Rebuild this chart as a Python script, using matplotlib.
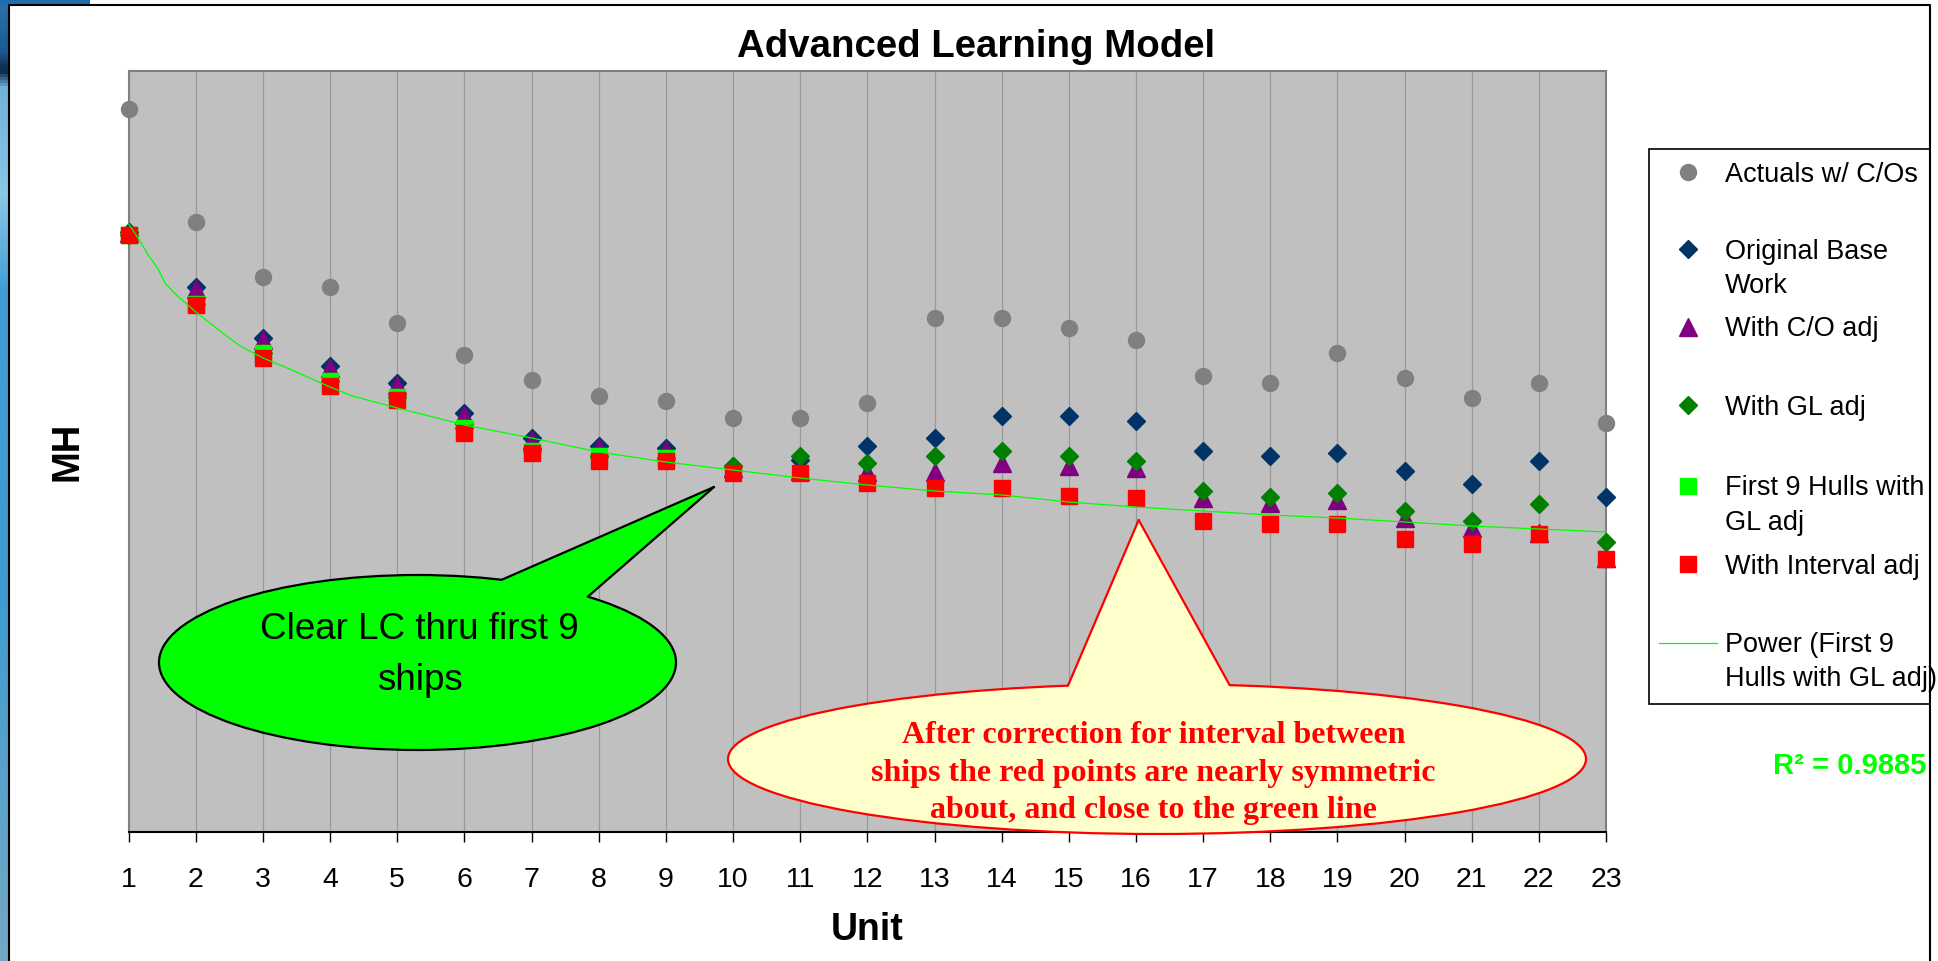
import numpy as np
import matplotlib.pyplot as plt
from matplotlib.lines import Line2D
from matplotlib.patches import Rectangle, Ellipse, Polygon
from matplotlib.colors import LinearSegmentedColormap

W, H = 1938, 961

# ---- data (MH, arbitrary units - axis has no scale) ----
units = list(range(1, 24))
actuals = [723, 610, 555, 545, 509, 477, 452, 436, 431, 414, 414, 429,
           514, 514, 504, 492, 456, 449, 479, 454, 434, 449, 409]
base_work = [600, 545, 494, 466, 449, 419, 394, 386, 384, 366, 372, 386,
             394, 416, 416, 411, 381, 376, 379, 361, 348, 371, 335]
co_adj = [599, 543, 492, 464, 447, 417, 392, 384, 382, 364, 361, 360,
          360, 369, 366, 364, 334, 329, 332, 314, 304, 299, 274]
gl_adj = [597, 528, 479, 451, 435, 404, 381, 376, 374, 366, 376, 369,
          376, 381, 376, 371, 341, 335, 339, 321, 311, 328, 290]
first9_units = list(range(1, 10))
first9_gl = [597, 528, 479, 451, 435, 404, 381, 376, 374]
interval_adj = [597, 527, 474, 446, 432, 399, 379, 371, 371, 359, 359, 349,
                344, 344, 336, 334, 311, 308, 308, 293, 288, 298, 273]
# power trendline as drawn by Excel
trend_x = [1, 1.14, 1.29, 1.43, 1.54, 1.71, 2, 2.4, 2.66, 3, 3.36, 4, 4.33,
           5, 6, 7, 8, 9, 10, 11, 12, 13, 14, 15, 16, 17, 18, 19, 20, 21, 22, 23]
trend_y = [608, 594, 577, 564, 549, 537, 520, 499, 486, 474, 464, 445, 436,
           424, 407, 394, 380, 370, 362, 354, 347, 341, 337, 330, 325, 321,
           317, 314, 310, 306, 303, 300]
r2_text = 'R² = 0.9885'

plt.rcParams['font.family'] = ['Liberation Sans', 'DejaVu Sans']

fig = plt.figure(figsize=(W / 100, H / 100), dpi=100)
fig.patch.set_facecolor('white')


def fx(px):
    return px / W


def fy(py):
    return 1 - py / H


# slide background peeking at the left/top edge
cmap = LinearSegmentedColormap.from_list('slide', [
    (0.0, '#2a72ad'), (0.05, '#1b5b8f'), (0.07, '#0c2c4a'), (0.09, '#6fb2dc'),
    (0.2, '#8cc6e6'), (0.3, '#3f9ed6'), (0.6, '#3b9bd2'), (1.0, '#74a7c3')])
strip = fig.add_axes([0, 0, fx(8), 1])
strip.imshow(np.linspace(0, 1, 300)[:, None], aspect='auto', cmap=cmap)
strip.axis('off')
topstrip = fig.add_axes([0, fy(5), fx(90), 5 / H])
topstrip.set_facecolor('#1f6eab')
topstrip.set_xticks([])
topstrip.set_yticks([])
for s in topstrip.spines.values():
    s.set_visible(False)

# chart area border
fig.add_artist(Line2D([fx(8.5), fx(8.5), fx(1929.5), fx(1929.5)],
                      [0, fy(5), fy(5), 0], color='black', lw=1.5))

# ---- plot area ----
x0, x1, ytop, ybot = 128.7, 1606, 71, 832
ax = fig.add_axes([fx(x0), fy(ybot), fx(x1) - fx(x0), (ybot - ytop) / H])
ax.set_facecolor('#C0C0C0')
ax.set_xlim(1, 23)
ax.set_ylim(0, ybot - ytop)
ax.set_xticks(units)
ax.set_xticklabels([str(u) for u in units])
ax.set_yticks([])
ax.tick_params(axis='x', direction='out', length=7.2, width=1, colors='black',
               labelsize=20.5, pad=17.8)
ax.grid(axis='x', color='#999999', lw=0.9)
ax.set_axisbelow(True)
for side in ['left', 'top', 'right']:
    ax.spines[side].set_color('#808080')
    ax.spines[side].set_linewidth(1.5)
ax.spines['bottom'].set_color('black')
ax.spines['bottom'].set_linewidth(1.5)

styles = [
    ('Actuals w/ C/Os', 'o', '#808080', 11.5),
    ('Original Base\nWork', 'D', '#003366', 9),
    ('With C/O adj', '^', '#800080', 13),
    ('With GL adj', 'D', '#008000', 9),
    ('First 9 Hulls with\nGL adj', 's', '#00FF00', 11.5),
    ('With Interval adj', 's', '#FF0000', 11.5),
]
series = [(units, actuals), (units, base_work), (units, co_adj),
          (units, gl_adj), (first9_units, first9_gl), (units, interval_adj)]

for (lab, mk, col, ms), (xs, ys) in zip(styles, series):
    ax.plot(xs, ys, ls='none', marker=mk, ms=ms, mfc=col, mec=col,
            clip_on=False, zorder=3)
ax.plot(trend_x, trend_y, color='#00FF00', lw=0.9, zorder=4, clip_on=False)

ax.set_xlabel('Unit', fontsize=27, fontweight='bold', labelpad=14)
ax.set_ylabel('MH', fontsize=27.5, fontweight='bold', labelpad=31)
fig.text(fx(976), fy(56.7), 'Advanced Learning Model', ha='center',
         va='baseline', fontsize=27.6, fontweight='bold')


# ---- callouts ----
def to_data(px, py):
    return 1 + (px - x0) / 67.15, ybot - py


def callout(center, size, tip, bx, face, edge, lw):
    cx, cy = to_data(*center)
    w, h = size[0] / 67.15, size[1]
    ax.add_patch(Ellipse((cx, cy), w, h, facecolor=face, edgecolor=edge,
                         lw=lw, zorder=6, clip_on=False))
    tx, ty = to_data(*tip)
    rims, inner = [], []
    for px in bx:
        x = 1 + (px - x0) / 67.15
        dy = (h / 2) * np.sqrt(max(0.0, 1 - ((x - cx) / (w / 2)) ** 2))
        rims.append((x, cy + dy))
        inner.append((x, cy + dy - 8))
    poly = [(tx, ty), rims[0], inner[0], inner[1], rims[1]]
    ax.add_patch(Polygon(poly, closed=True, facecolor=face, edgecolor='none',
                         zorder=7, clip_on=False))
    for r in rims:
        ax.plot([tx, r[0]], [ty, r[1]], color=edge, lw=lw, zorder=8,
                clip_on=False, solid_capstyle='round')


# va='baseline' on multi-line text anchors the last line
callout((417.5, 662.5), (517, 175), (714, 487), (501.7, 587.8),
        '#00FF00', 'black', 1.6)
gx, gy = to_data(419.4, 690)
ax.text(gx, gy, 'Clear LC thru first 9\nships', ha='center', va='baseline',
        fontsize=26.5, linespacing=1.6, zorder=9)

callout((1157, 759), (858, 150), (1138.7, 520), (1068, 1229.6),
        '#FFFFCC', '#FF0000', 1.6)
yx, yy = to_data(1153.7, 818)
ax.text(yx, yy, 'After correction for interval between\n'
        'ships the red points are nearly symmetric\n'
        'about, and close to the green line', ha='center', va='baseline',
        fontsize=23, color='#FF0000', fontweight='bold',
        family=['Liberation Serif', 'DejaVu Serif'], linespacing=1.38, zorder=9)

# ---- legend ----
fig.add_artist(Rectangle((fx(1649.3), fy(704)), fx(1930) - fx(1649.3),
                         (704 - 148.6) / H, transform=fig.transFigure,
                         facecolor='white', edgecolor='black', lw=1.2))
leg_y = [171.5, 249.4, 326.5, 404.8, 485.9, 563.8]
for (lab, mk, col, ms), py in zip(styles, leg_y):
    fig.add_artist(Line2D([fx(1687.7)], [fy(py)], ls='none', marker=mk,
                          ms=ms, mfc=col, mec=col))
    nl = lab.count('\n')
    fig.text(fx(1725), fy(py + 10 + 33.6 * nl), lab, ha='left',
             va='baseline', fontsize=19.5, linespacing=1.42)
fig.add_artist(Line2D([fx(1659), fx(1717)], [fy(642.8), fy(642.8)],
                      color='#00FF00', lw=0.9))
fig.text(fx(1725), fy(652.8 + 33.6), 'Power (First 9\nHulls with GL adj)',
         ha='left', va='baseline', fontsize=19.5, linespacing=1.42)

fig.text(fx(1926), fy(774), r2_text, ha='right', va='baseline', fontsize=21,
         fontweight='bold', color='#00FF00')

fig.savefig('out.png', dpi=100)
